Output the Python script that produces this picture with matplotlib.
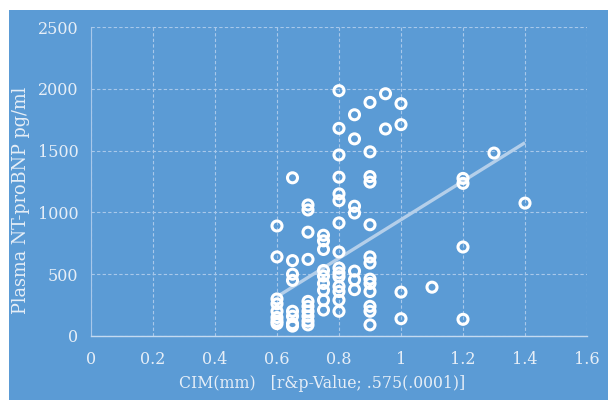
import numpy as np
import matplotlib
matplotlib.use("Agg")
import matplotlib.pyplot as plt
from matplotlib.patches import Rectangle

# CIM (mm) values, one list per observed x position
cim_06 = [0.6] * 8
bnp_06 = [890, 640, 300, 260, 200, 150, 120, 100]
cim_065 = [0.65] * 8
bnp_065 = [1280, 610, 500, 450, 200, 160, 100, 80]
cim_07 = [0.7] * 10
bnp_07 = [1060, 1020, 840, 620, 280, 240, 200, 160, 120, 90]
cim_075 = [0.75] * 9
bnp_075 = [815, 770, 700, 530, 485, 425, 370, 290, 210]
cim_08 = [0.8] * 15
bnp_08 = [1985, 1680, 1465, 1285, 1150, 1095, 915, 680, 550, 510, 480, 400, 360, 290, 200]
cim_085 = [0.85] * 7
bnp_085 = [1790, 1595, 1050, 995, 525, 455, 375]
cim_09 = [0.9] * 13
bnp_09 = [1890, 1490, 1290, 1245, 900, 640, 590, 460, 425, 360, 240, 200, 90]
cim_high = [0.95, 0.95, 1.0, 1.0, 1.0, 1.0, 1.1, 1.2, 1.2, 1.2, 1.2, 1.3, 1.4]
bnp_high = [1960, 1675, 1880, 1710, 355, 140, 395, 1275, 1235, 720, 135, 1480, 1075]

# linear trend as drawn in the source chart (ends)
trend_x = [0.6, 1.4]
trend_y = [318, 1564]

x_ticks = [0, 0.2, 0.4, 0.6, 0.8, 1, 1.2, 1.4, 1.6]
x_tick_labels = ["0", "0.2", "0.4", "0.6", "0.8", "1", "1.2", "1.4", "1.6"]
y_ticks = [0, 500, 1000, 1500, 2000, 2500]


def collect():
    x = cim_06 + cim_065 + cim_07 + cim_075 + cim_08 + cim_085 + cim_09 + cim_high
    y = bnp_06 + bnp_065 + bnp_07 + bnp_075 + bnp_08 + bnp_085 + bnp_09 + bnp_high
    return x, y


def main():
    bg = "#5B9BD5"
    txt = "#E6EEF7"
    plt.rcParams["font.family"] = ["DejaVu Serif"]

    fig = plt.figure(figsize=(6.08, 4.0), dpi=100, facecolor="white")
    fig.patches.append(Rectangle((9 / 608, 0), 1 - 9 / 608, 390 / 400,
                                 transform=fig.transFigure, facecolor=bg,
                                 edgecolor="none", zorder=-1))
    ax = fig.add_axes([91 / 608, 64 / 400, 496 / 608, 309 / 400])
    ax.set_facecolor(bg)

    x, y = collect()

    ax.plot(trend_x, trend_y, color="#B4CFEA", lw=2.4, zorder=2,
            solid_capstyle="butt")
    ax.scatter(x, y, s=52, facecolors="none", edgecolors="white",
               linewidths=2.2, zorder=3)

    ax.set_xlim(0, 1.6)
    ax.set_ylim(0, 2500)
    ax.set_xticks(x_ticks)
    ax.set_xticklabels(x_tick_labels)
    ax.set_yticks(y_ticks)
    ax.grid(True, color="#A8C8EA", linestyle=(0, (3, 2)), linewidth=0.8)
    ax.set_axisbelow(True)
    for side in ["top", "right"]:
        ax.spines[side].set_visible(False)
    ax.spines["left"].set_color("#A8C8EA")
    ax.spines["left"].set_linewidth(0.8)
    ax.spines["bottom"].set_color("#C4DAF0")
    ax.spines["bottom"].set_linewidth(1.0)
    ax.tick_params(length=0, labelsize=11.5, colors=txt)
    ax.tick_params(axis="y", pad=9)
    ax.tick_params(axis="x", pad=11)

    ax.set_xlabel("CIM(mm)   [r&p-Value; .575(.0001)]", fontsize=11.3,
                  color=txt)
    ax.xaxis.set_label_coords(0.465, -0.125)
    ax.set_ylabel("Plasma NT-proBNP pg/ml", fontsize=12.7, color=txt)
    ax.yaxis.set_label_coords(-0.122, 0.44)

    fig.savefig("out.png", dpi=100, facecolor="white")


if __name__ == "__main__":
    main()
